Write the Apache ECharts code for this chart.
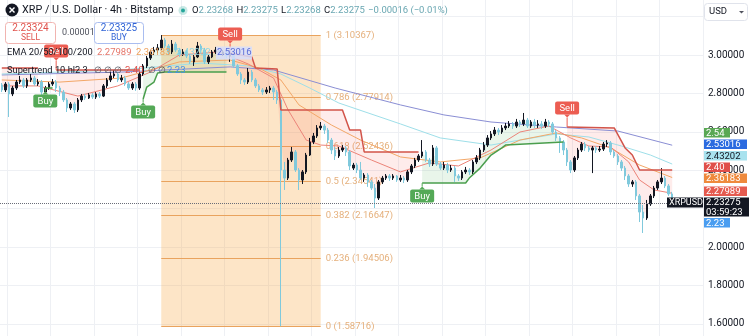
<!DOCTYPE html>
<html><head><meta charset="utf-8">
<script src="https://cdn.jsdelivr.net/npm/echarts@6/dist/echarts.min.js"></script>
<style>html,body{margin:0;padding:0;background:#fff}#c{width:752px;height:336px}</style>
</head><body><div id="c"></div>
<script>
// ---- candle data (4h XRPUSD, Bitstamp) ----
const opens = [
2.844,2.818,2.849,2.797,2.828,2.859,2.870,2.839,2.870,2.880,
2.849,2.859,2.807,2.828,2.849,2.859,2.828,2.807,2.766,2.724,
2.745,2.714,2.766,2.786,2.776,2.792,2.781,2.797,2.786,2.839,
2.870,2.891,2.901,2.870,2.880,2.849,2.828,2.849,2.828,2.901,
2.943,2.984,3.016,3.026,3.037,3.078,3.047,3.016,3.057,3.026,
3.005,3.016,2.995,2.964,2.990,3.047,3.026,2.964,2.990,3.016,
3.026,3.005,3.016,2.995,3.005,2.943,2.901,2.870,2.859,2.911,
2.870,2.839,2.818,2.807,2.818,2.828,2.807,2.766,2.401,2.359,
2.453,2.495,2.401,2.349,2.391,2.479,2.547,2.578,2.620,2.630,
2.609,2.557,2.505,2.474,2.505,2.516,2.495,2.411,2.427,2.401,
2.359,2.375,2.339,2.307,2.255,2.339,2.359,2.370,2.359,2.370,
2.349,2.359,2.349,2.391,2.422,2.453,2.474,2.495,2.453,2.432,
2.516,2.432,2.411,2.427,2.401,2.411,2.370,2.359,2.391,2.401,
2.391,2.443,2.464,2.505,2.531,2.568,2.589,2.609,2.599,2.620,
2.630,2.641,2.630,2.651,2.641,2.661,2.630,2.651,2.635,2.641,
2.630,2.651,2.641,2.599,2.568,2.547,2.505,2.443,2.401,2.464,
2.505,2.536,2.516,2.505,2.516,2.505,2.510,2.536,2.542,2.495,
2.474,2.443,2.411,2.370,2.328,2.339,2.266,2.182,2.151,2.224,
2.266,2.307,2.339,2.359,2.318,2.276];
const closes = [
2.818,2.849,2.797,2.828,2.859,2.870,2.839,2.870,2.880,2.849,
2.859,2.807,2.828,2.849,2.859,2.828,2.807,2.766,2.724,2.745,
2.714,2.766,2.786,2.776,2.792,2.781,2.797,2.786,2.839,2.870,
2.891,2.901,2.870,2.880,2.849,2.828,2.849,2.828,2.901,2.943,
2.984,3.016,3.026,3.037,3.078,3.047,3.016,3.057,3.026,3.005,
3.016,2.995,2.964,2.990,3.047,3.026,2.964,2.990,3.016,3.026,
3.005,3.016,2.995,3.005,2.943,2.901,2.870,2.859,2.911,2.870,
2.839,2.818,2.807,2.818,2.828,2.807,2.766,2.401,2.359,2.453,
2.495,2.401,2.349,2.391,2.479,2.547,2.578,2.620,2.630,2.609,
2.557,2.505,2.474,2.505,2.516,2.495,2.422,2.427,2.401,2.359,
2.375,2.339,2.307,2.255,2.339,2.359,2.370,2.359,2.370,2.349,
2.359,2.349,2.391,2.422,2.453,2.474,2.495,2.453,2.432,2.516,
2.432,2.411,2.427,2.401,2.411,2.370,2.359,2.391,2.401,2.391,
2.443,2.464,2.505,2.531,2.568,2.589,2.609,2.599,2.620,2.630,
2.641,2.630,2.651,2.641,2.661,2.630,2.651,2.635,2.641,2.630,
2.651,2.641,2.599,2.568,2.547,2.505,2.443,2.401,2.464,2.505,
2.536,2.516,2.505,2.516,2.505,2.510,2.536,2.542,2.495,2.474,
2.443,2.411,2.370,2.328,2.339,2.266,2.182,2.151,2.224,2.266,
2.307,2.339,2.359,2.318,2.276,2.23275];
const highs = [
2.854,2.859,2.859,2.839,2.870,2.891,2.880,2.880,2.901,2.891,
2.875,2.870,2.839,2.859,2.875,2.870,2.839,2.818,2.776,2.755,
2.755,2.776,2.797,2.797,2.802,2.802,2.807,2.807,2.849,2.880,
2.911,2.922,2.911,2.896,2.891,2.859,2.859,2.859,2.911,2.953,
2.995,3.026,3.042,3.057,3.1037,3.089,3.057,3.078,3.068,3.037,
3.031,3.026,3.005,3.000,3.068,3.057,3.037,3.000,3.026,3.042,
3.037,3.026,3.026,3.026,3.016,2.953,2.911,2.880,2.932,2.922,
2.880,2.849,2.828,2.833,2.839,2.839,2.818,2.776,2.443,2.464,
2.521,2.505,2.411,2.401,2.490,2.568,2.594,2.635,2.651,2.641,
2.620,2.568,2.521,2.521,2.531,2.526,2.505,2.438,2.438,2.443,
2.385,2.385,2.349,2.328,2.349,2.370,2.380,2.380,2.380,2.375,
2.375,2.370,2.401,2.432,2.464,2.484,2.557,2.505,2.464,2.531,
2.526,2.443,2.443,2.438,2.427,2.422,2.380,2.401,2.417,2.411,
2.453,2.479,2.516,2.547,2.583,2.604,2.625,2.620,2.635,2.646,
2.656,2.651,2.667,2.661,2.698,2.672,2.661,2.667,2.661,2.656,
2.667,2.661,2.651,2.609,2.578,2.557,2.516,2.453,2.474,2.516,
2.547,2.547,2.526,2.526,2.526,2.526,2.547,2.557,2.552,2.505,
2.484,2.453,2.422,2.380,2.349,2.349,2.276,2.219,2.245,2.276,
2.318,2.349,2.411,2.370,2.328,2.287];
const lows = [
2.807,2.807,2.677,2.786,2.818,2.849,2.828,2.828,2.859,2.839,
2.839,2.776,2.797,2.818,2.839,2.807,2.786,2.755,2.703,2.714,
2.698,2.703,2.755,2.766,2.771,2.771,2.771,2.776,2.781,2.828,
2.859,2.880,2.859,2.859,2.839,2.818,2.818,2.813,2.818,2.891,
2.932,2.974,3.000,3.010,3.026,3.037,3.000,3.005,3.016,2.990,
2.995,2.984,2.953,2.943,2.984,3.010,2.953,2.953,2.984,3.005,
2.995,2.995,2.984,2.964,2.932,2.891,2.849,2.844,2.849,2.859,
2.828,2.807,2.792,2.797,2.802,2.766,2.745,1.58716,2.297,2.349,
2.443,2.391,2.297,2.328,2.380,2.474,2.536,2.568,2.609,2.589,
2.542,2.484,2.453,2.464,2.495,2.474,2.401,2.401,2.385,2.349,
2.339,2.313,2.297,2.203,2.245,2.328,2.349,2.344,2.349,2.339,
2.339,2.333,2.339,2.380,2.411,2.443,2.464,2.443,2.417,2.422,
2.422,2.401,2.401,2.385,2.391,2.339,2.344,2.349,2.380,2.375,
2.380,2.432,2.453,2.495,2.521,2.557,2.578,2.583,2.589,2.609,
2.620,2.615,2.620,2.625,2.630,2.620,2.620,2.620,2.620,2.615,
2.620,2.625,2.589,2.552,2.490,2.479,2.422,2.385,2.391,2.453,
2.495,2.500,2.495,2.385,2.490,2.495,2.500,2.521,2.479,2.464,
2.427,2.396,2.349,2.313,2.313,2.245,2.130,2.073,2.141,2.214,
2.255,2.297,2.328,2.307,2.266,2.214];
const lastPrice = 2.23275;

// ---- EMA 20/50/100/200 (read at key candles) ----
const ema20 = [[0,2.839],[10,2.839],[21,2.786],[32,2.839],[41,2.911],[49,3.000],[60,3.016],[68,2.953],[75,2.880],[79,2.714],[84,2.557],[88,2.531],[93,2.526],[102,2.453],[110,2.391],[118,2.438],[126,2.422],[135,2.505],[143,2.599],[151,2.630],[157,2.568],[162,2.526],[168,2.521],[173,2.443],[176,2.349],[180,2.297],[185,2.27989]];
const ema50 = [[0,2.870],[16,2.859],[33,2.880],[49,2.964],[63,2.974],[71,2.932],[77,2.870],[82,2.740],[91,2.635],[99,2.557],[110,2.469],[121,2.443],[132,2.464],[143,2.557],[153,2.594],[160,2.568],[168,2.516],[176,2.427],[185,2.36183]];
const ema100 = [[0,2.901],[33,2.922],[55,2.958],[68,2.943],[77,2.901],[85,2.828],[93,2.750],[110,2.641],[121,2.568],[135,2.531],[143,2.557],[153,2.589],[162,2.573],[171,2.526],[179,2.479],[185,2.43202]];
const ema200 = [[0,2.896],[33,2.911],[63,2.938],[75,2.922],[92,2.828],[110,2.740],[122,2.688],[135,2.651],[153,2.625],[170,2.604],[185,2.53016]];

// ---- Supertrend 10 hl2 3 ----
const stDown1 = [[0,2.932],[10,2.932]];
const stUp1 = [[12,2.828],[14,2.828]];
const stDown2 = [[15,2.922],[38,2.922]];
const stUp2 = [[39,2.771],[40,2.833],[42,2.859],[43,2.906],[45,2.911],[62,2.911]];
const stDown3 = [[63,3.010],[69,2.990],[70,2.932],[76,2.927],[77,2.714],[94,2.714],[96,2.609],[99,2.609],[100,2.495],[115,2.495]];
const stUp3 = [[116,2.333],[128,2.333],[129,2.359],[132,2.411],[135,2.479],[138,2.516],[139,2.531],[155,2.547]];
const stDown4 = [[156,2.625],[169,2.620],[172,2.516],[174,2.479],[176,2.401],[185,2.401]];
const stSegs = [stDown1, stUp1, stDown2, stUp2, stDown3, stUp3, stDown4];
const stDirs = ['down','up','down','up','down','up','down'];

// ---- Buy / Sell signals ----
const sigIdx = [12, 15, 39, 63, 116, 156];
const sigType = ['Buy','Sell','Buy','Sell','Buy','Sell'];
const sigPrice = [2.828, 2.922, 2.771, 3.010, 2.333, 2.625];

// ---- Fibonacci retracement ----
const fibLevels = ['1','0.786','0.618','0.5','0.382','0.236','0'];
const fibPrices = [3.10367, 2.77914, 2.52436, 2.34541, 2.16647, 1.94506, 1.58716];
const fibStart = 44, fibEnd = 88;

// ---- price scale ----
const yMin = 1.6, yMax = 3.2, yStep = 0.2;

const slotCount = 194;
const slots = []; for (let i = 0; i < slotCount; i++) slots.push(String(i));
const candles = opens.map((o, i) => [o, closes[i], lows[i], highs[i]]);

const FONT = 'Roboto, "Liberation Sans", sans-serif';
const chart = echarts.init(document.getElementById('c'), null, {renderer: 'canvas', width: 752, height: 336});

function lineSeries(data, color, width, z) {
  return {type: 'line', data, showSymbol: false, silent: true, z, clip: false,
          lineStyle: {color, width}, animation: false};
}

const series = [];
// Fibonacci box
series.push({
  type: 'custom', z: 1, silent: true, clip: false, data: [[fibStart, fibPrices[0]]], encode: {x: 0, y: 1},
  renderItem: (params, api) => {
    const x0 = api.coord([fibStart, fibPrices[0]])[0];
    const x1 = api.coord([fibEnd, fibPrices[0]])[0];
    const yT = api.coord([fibStart, fibPrices[0]])[1];
    const yB = api.coord([fibStart, fibPrices[fibPrices.length - 1]])[1];
    const ch = [{type: 'rect', shape: {x: x0, y: yT, width: x1 - x0, height: yB - yT},
                 style: {fill: 'rgba(250,168,70,0.30)'}}];
    fibPrices.forEach((p, k) => {
      const y = Math.round(api.coord([fibStart, p])[1]) + 0.5;
      ch.push({type: 'line', shape: {x1: x0, y1: y, x2: x1, y2: y}, style: {stroke: '#e9a35e', lineWidth: 1}});
      ch.push({type: 'text', style: {text: fibLevels[k] + ' (' + p.toFixed(5) + ')', x: x1 + 5, y: y,
               verticalAlign: 'middle', fill: '#e5b07c', font: '9.5px ' + FONT}});
    });
    return {type: 'group', children: ch};
  }
});
// Supertrend fills
series.push({
  type: 'custom', z: 2, silent: true, data: stSegs.map(s => [s[0][0], s[0][1]]), encode: {x: 0, y: 1},
  renderItem: (params, api) => {
    const seg = stSegs[params.dataIndex];
    const pts = seg.map(p => api.coord(p));
    const a = seg[0][0], b = seg[seg.length - 1][0];
    for (let i = b; i >= a; i--) pts.push(api.coord([i, (opens[i] + closes[i]) / 2]));
    return {type: 'polygon', shape: {points: pts},
            style: {fill: stDirs[params.dataIndex] === 'down' ? 'rgba(242,80,70,0.11)' : 'rgba(76,175,80,0.12)'}};
  }
});
// EMAs
series.push(lineSeries(ema200, '#8a8ed4', 1, 3));
series.push(lineSeries(ema100, '#9edfe9', 1, 3));
series.push(lineSeries(ema50, '#f3a767', 1, 3));
series.push(lineSeries(ema20, '#ec8479', 1, 3));
// Candles
series.push({
  type: 'candlestick', data: candles, barWidth: 2, z: 4, silent: true, clip: false,
  itemStyle: {color: '#131722', color0: '#80c9dc', borderColor: '#131722', borderColor0: '#80c9dc', borderWidth: 1},
  markLine: {symbol: ['none', 'none'], silent: true, label: {show: false},
             lineStyle: {type: 'dotted', color: '#6a6d78', width: 1}, data: [{yAxis: lastPrice}]}
});
// Supertrend lines
stSegs.forEach((s, k) => series.push(lineSeries(s, stDirs[k] === 'down' ? '#d2544a' : '#4a9e4d', 1.5, 5)));
// Signals
series.push({
  type: 'custom', z: 6, silent: true, clip: false, data: sigIdx.map((x, k) => [x, sigPrice[k]]), encode: {x: 0, y: 1},
  renderItem: (params, api) => {
    const k = params.dataIndex;
    const p = api.coord([api.value(0), api.value(1)]);
    const buy = sigType[k] === 'Buy';
    const w = 24, h = 13, col = buy ? '#54a957' : '#ec5d52';
    const cy = buy ? p[1] + 13 : p[1] - 19;
    const top = cy - h / 2, bot = cy + h / 2;
    const ch = [];
    if (buy) {
      ch.push({type: 'line', shape: {x1: p[0], y1: p[1], x2: p[0], y2: top - 3}, style: {stroke: col, lineWidth: 1}});
      ch.push({type: 'polygon', shape: {points: [[p[0] - 3, top], [p[0] + 3, top], [p[0], top - 3]]}, style: {fill: col}});
    } else {
      ch.push({type: 'line', shape: {x1: p[0], y1: p[1], x2: p[0], y2: bot + 3}, style: {stroke: col, lineWidth: 1}});
      ch.push({type: 'polygon', shape: {points: [[p[0] - 3, bot], [p[0] + 3, bot], [p[0], bot + 3]]}, style: {fill: col}});
    }
    ch.push({type: 'rect', shape: {x: p[0] - w / 2, y: top, width: w, height: h, r: 2}, style: {fill: col}});
    ch.push({type: 'text', style: {text: sigType[k], x: p[0], y: cy + 0.5, align: 'center', verticalAlign: 'middle',
             fill: '#fff', font: '9.5px ' + FONT}});
    return {type: 'group', children: ch};
  }
});

// ---- overlay texts / badges ----
const G = [];
function txt(x, y, text, fill, size, align) {
  G.push({type: 'text', z: 101, style: {text, x, y, fill, font: size + 'px ' + FONT,
         verticalAlign: 'middle', align: align || 'left'}});
}
function box(x, y, w, h, fill, stroke, r) {
  G.push({type: 'rect', z: 100, shape: {x, y, width: w, height: h, r: r || 0},
          style: {fill, stroke: stroke || null, lineWidth: 1}});
}
function badge(y, w, h, bg, fg, text) {
  box(704, y, w, h, bg);
  txt(706, y + h / 2 + 0.5, text, fg, 9.5);
}
// header line 1
G.push({type: 'circle', z: 100, shape: {cx: 12, cy: 10, r: 6.5}, style: {fill: '#131722'}});
G.push({type: 'line', z: 101, shape: {x1: 9.5, y1: 7.5, x2: 14.5, y2: 12.5}, style: {stroke: '#fff', lineWidth: 1.4}});
G.push({type: 'line', z: 101, shape: {x1: 14.5, y1: 7.5, x2: 9.5, y2: 12.5}, style: {stroke: '#fff', lineWidth: 1.4}});
txt(22, 10.5, 'XRP / U.S. Dollar · 4h · Bitstamp', '#131722', 10.8);
G.push({type: 'circle', z: 100, shape: {cx: 183, cy: 10.5, r: 4.5}, style: {fill: 'rgba(38,166,154,0.25)'}});
G.push({type: 'circle', z: 101, shape: {cx: 183, cy: 10.5, r: 2}, style: {fill: '#26a69a'}});
G.push({type: 'text', z: 101, style: {
  x: 192, y: 10.5, verticalAlign: 'middle',
  text: '{k|O}{v|2.23268} {k|H}{v|2.23275} {k|L}{v|2.23268} {k|C}{v|2.23275} {v|−0.00016 (−0.01%)}',
  rich: {k: {fill: '#131722', font: '9.5px ' + FONT}, v: {fill: '#6aa7b2', font: '9.5px ' + FONT}}
}});
// sell / buy boxes
box(5.5, 22.5, 50, 21, '#fff', '#f1b4b0', 3);
txt(30.5, 28.5, '2.23324', '#e0524c', 10, 'center');
txt(30.5, 37.5, 'SELL', '#e0524c', 8.5, 'center');
txt(62, 33, '0.00001', '#50535e', 9);
box(94.5, 22.5, 49, 21, '#fff', '#a9bdf0', 3);
txt(119, 28.5, '2.23325', '#2f63d6', 10, 'center');
txt(119, 37.5, 'BUY', '#2f63d6', 8.5, 'center');
// EMA legend
txt(7, 53, 'EMA 20/50/100/200', '#131722', 9.3);
txt(97, 53, '2.27989', '#e6776b', 9.5);
txt(136, 53, '2.36183', '#eea05a', 9.5);
txt(176, 53, '2.43202', '#8fd6e2', 9.5);
box(216, 46.5, 36, 13, 'rgba(214,222,252,0.85)');
txt(217, 53, '2.53016', '#5a6bd8', 9.5);
// Supertrend legend
txt(7, 71, 'Supertrend 10 hl2 3', '#131722', 9.3);
txt(94, 71, '∅ ∅ ∅', '#50535e', 9);
txt(125, 71, '2.40', '#e0524c', 9.5);
txt(148, 71, '∅ ∅', '#50535e', 9);
txt(167, 71, '2.23', '#3f8fe8', 9.5);
// USD box
box(704.5, 3.5, 43, 17, '#fff', '#e0e3eb', 3);
txt(709, 12, 'USD', '#131722', 9.5);
G.push({type: 'polygon', z: 101, shape: {points: [[739, 11], [744, 11], [741.5, 13.5]]}, style: {fill: '#50535e'}});
// right badges
badge(128, 26, 9.5, '#5aa854', '#fff', '2.54');
badge(139.5, 43, 9.5, '#2b6be0', '#fff', '2.53016');
badge(151, 43, 9.5, '#a8e2ee', '#131722', '2.43202');
badge(162.5, 26, 9.5, '#e04f4a', '#fff', '2.40');
badge(173.5, 43, 9.5, '#ef8a3d', '#fff', '2.36183');
badge(186.5, 43, 9.5, '#e55b50', '#fff', '2.27989');
badge(197.5, 45, 9.5, '#131722', '#fff', '2.23275');
badge(207, 45, 9.5, '#131722', '#fff', '03:59:23');
badge(218, 26, 9.5, '#4a9df0', '#fff', '2.23');
box(667, 197.5, 36, 10, '#131722');
txt(669, 202.8, 'XRPUSD', '#fff', 9);

chart.setOption({
  animation: false,
  backgroundColor: '#ffffff',
  grid: [
    {left: 0, right: 49, top: 16.6, height: 307.2},
    {left: 0, right: 49, top: 0, bottom: 0}
  ],
  xAxis: [
    {type: 'category', data: slots, boundaryGap: true, gridIndex: 0,
     axisLine: {show: false}, axisTick: {show: false}, axisLabel: {show: false}, splitLine: {show: false}},
    {type: 'category', data: slots, boundaryGap: true, gridIndex: 1,
     axisLine: {show: false}, axisTick: {show: false}, axisLabel: {show: false},
     splitLine: {show: true, interval: (i) => i % 12 === 2, lineStyle: {color: '#eef0f4'}}}
  ],
  yAxis: [
    {type: 'value', position: 'right', min: yMin, max: yMax, interval: yStep, gridIndex: 0,
     axisLine: {show: false}, axisTick: {show: false},
     axisLabel: {margin: 5, color: '#131722', fontSize: 10, fontFamily: FONT,
                 formatter: v => (v < 3.1) ? v.toFixed(5) : ''},
     splitLine: {lineStyle: {color: '#eef0f4'}}},
    {type: 'value', gridIndex: 1, min: 0, max: 1, show: false}
  ],
  series,
  graphic: G
});
</script></body></html>
